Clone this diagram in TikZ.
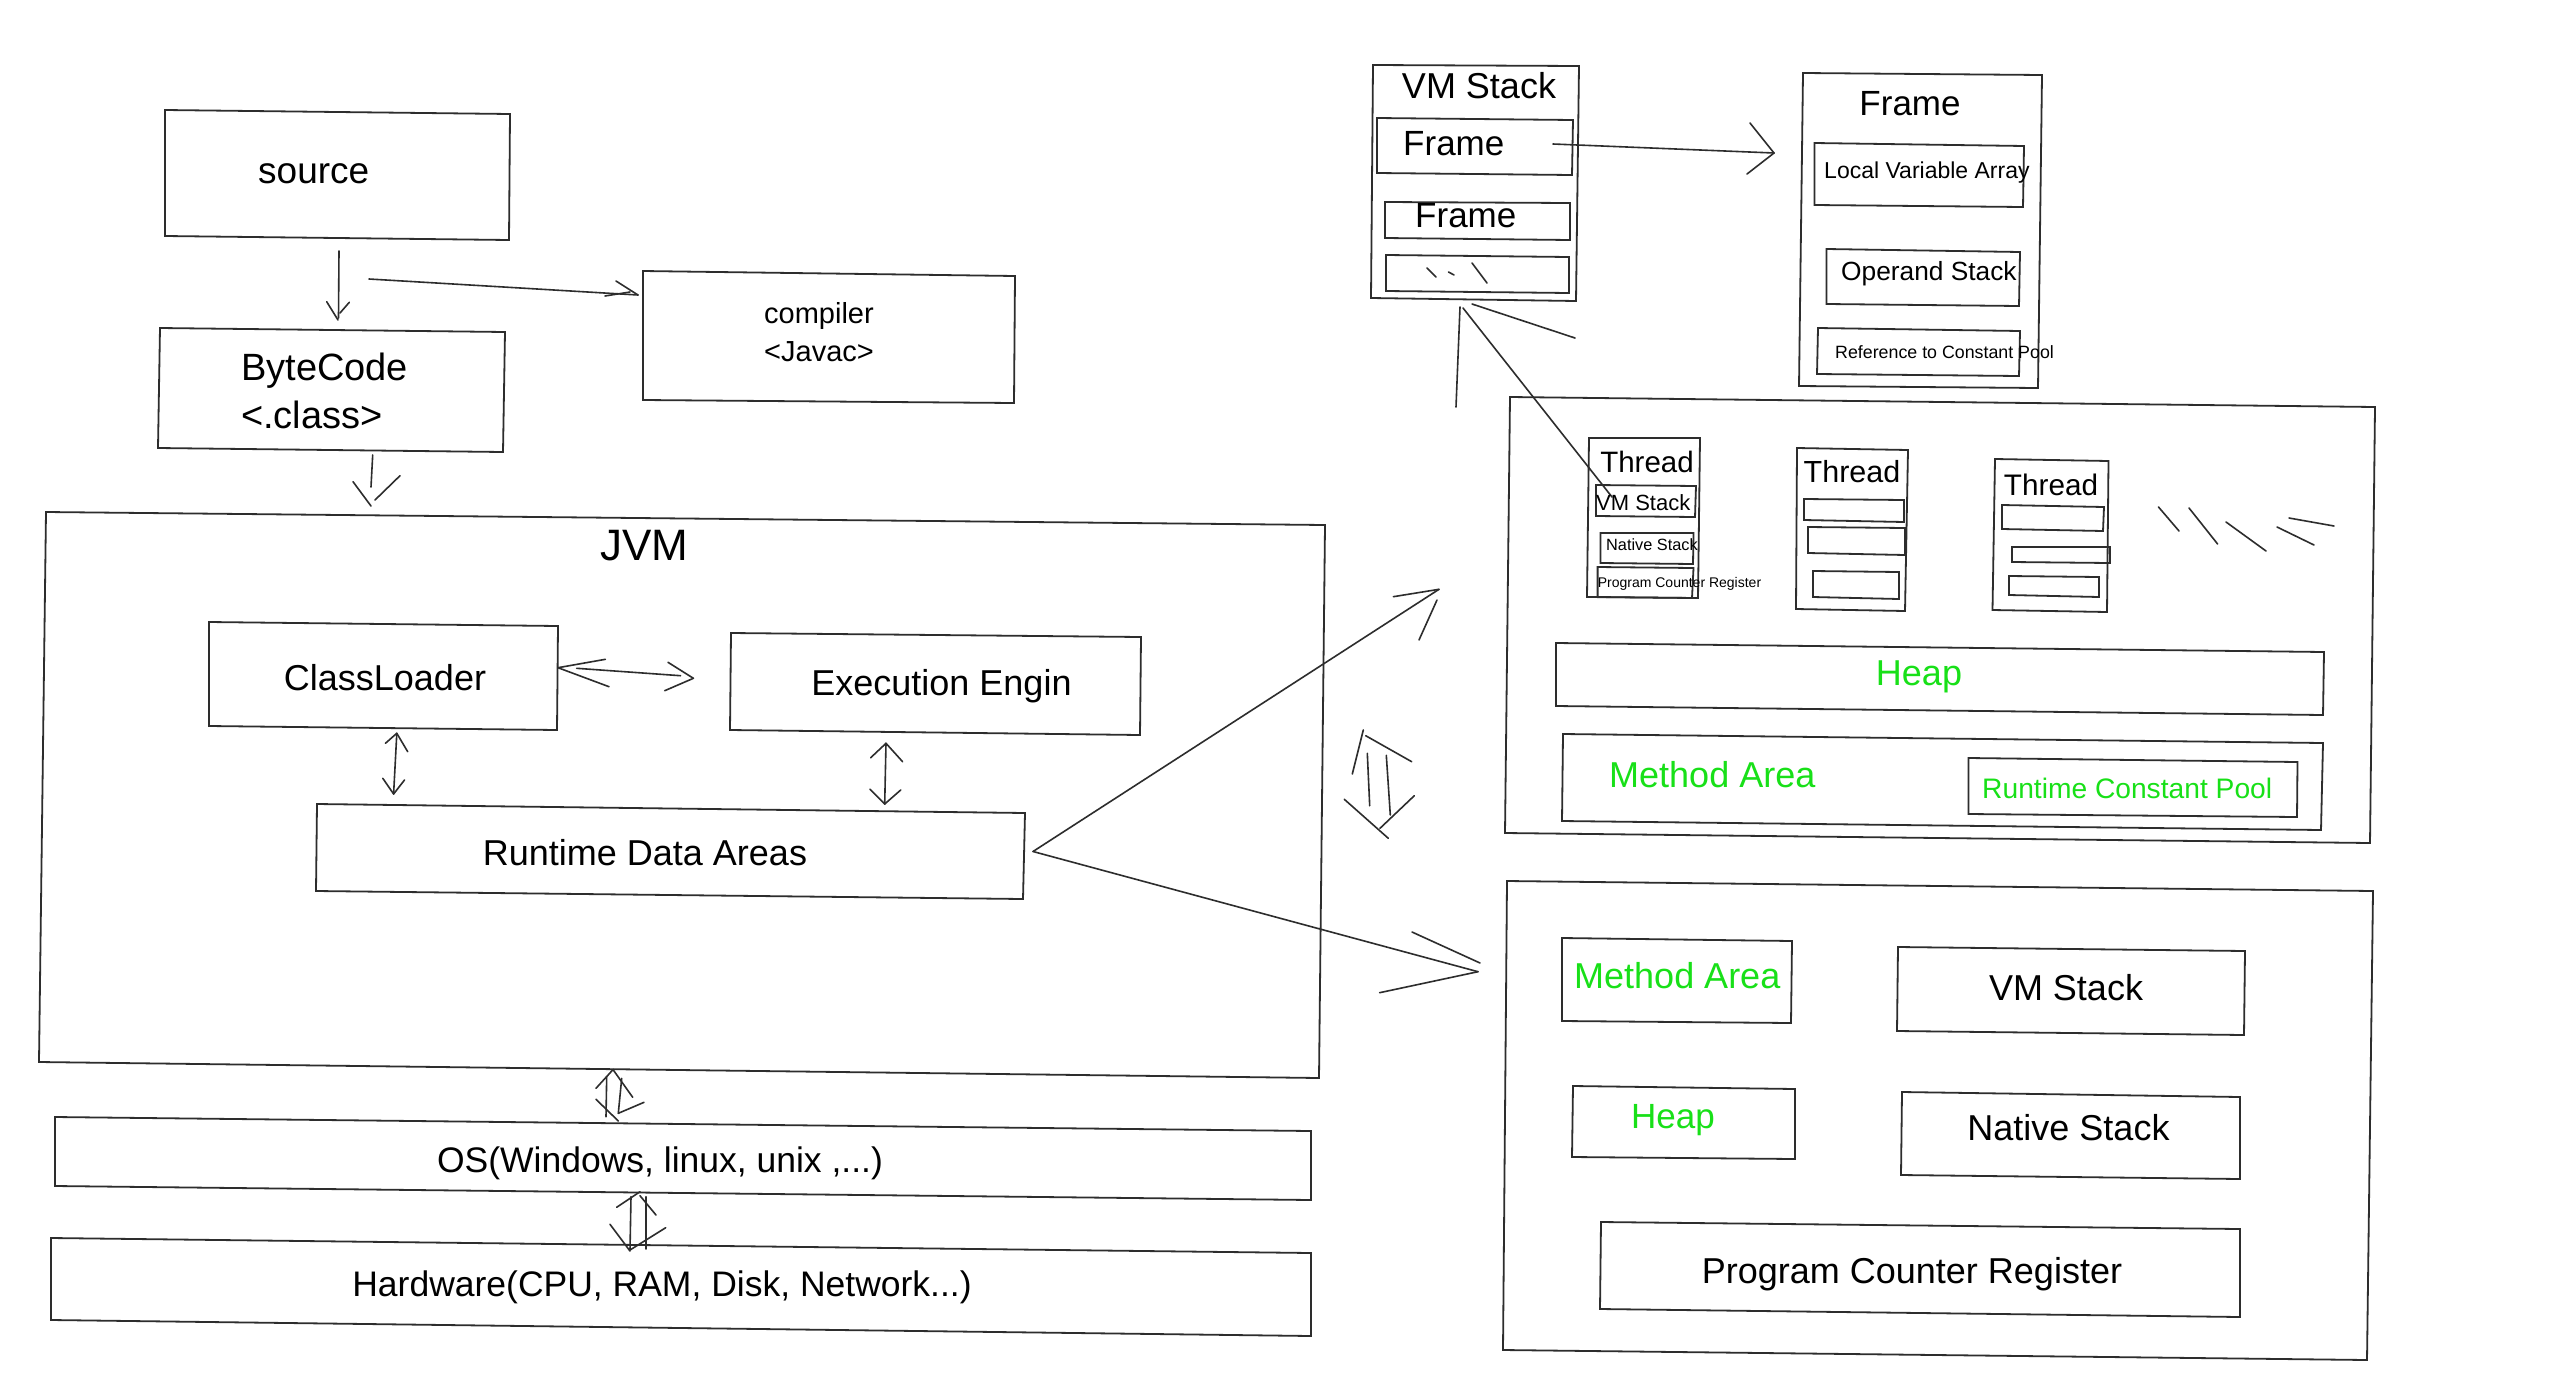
\documentclass[tikz,border=0pt]{standalone}
\usepackage{fontspec}
\setmainfont{Liberation Sans}
\definecolor{ink}{RGB}{45,45,45}
\definecolor{grn}{RGB}{24,224,24}
\newcommand{\fs}[1]{\fontsize{#1pt}{#1pt}\selectfont}
\newcommand{\qbox}[5]{%
  \coordinate (#1-a) at (#2); \coordinate (#1-b) at (#3);
  \coordinate (#1-c) at (#4); \coordinate (#1-d) at (#5);
  \draw[boxline] (#1-a) -- (#1-b) -- (#1-c) -- (#1-d) -- cycle;}
\newcommand{\sk}[3]{%
  \coordinate (#1-s) at (#2); \coordinate (#1-e) at (#3);
  \draw[ln] (#1-s) -- (#1-e);}
\tikzset{
  boxline/.style={draw=ink, line width=1.8pt, line join=miter},
  ln/.style={draw=ink, line width=1.6pt, line cap=round},
  txt/.style={inner sep=0pt, text=black},
  gtxt/.style={inner sep=0pt, text=grn}
}
\begin{document}
\begin{tikzpicture}[x=1pt,y=-1pt]
\useasboundingbox (0,0) rectangle (2560,1395);
\fill[white] (0,0) rectangle (2560,1395);

% ---------------- left column ----------------
\qbox{src}{165,110}{510,114}{509,240}{165,236}
\node[txt, font=\fs{37}, anchor=base west] (t-src) at (258,183) {source};

\qbox{bc}{160,328}{505,332}{503,452}{158,448}
\node[txt, font=\fs{38}, anchor=base west] (t-bc1) at (241,380) {ByteCode};
\node[txt, font=\fs{38}, anchor=base west] (t-bc2) at (241,428) {<.class>};

\qbox{cmp}{643,271}{1015,276}{1014,403}{643,400}
\node[txt, font=\fs{29}, anchor=base west] (t-cmp1) at (764,323) {compiler};
\node[txt, font=\fs{29}, anchor=base west] (t-cmp2) at (764,361) {<Javac>};

% source -> ByteCode
\sk{a1}{339,251}{338.5,318}
\sk{a1h1}{326.7,301.7}{338,320}
\sk{a1h2}{349.3,302.3}{340,313}
% -> compiler
\sk{a2}{369,279}{638,295}
\sk{a2h1}{616,281}{638,295}
\sk{a2h2}{605,296}{630,292}
% ByteCode -> JVM
\sk{a3}{372.7,455}{371,487}
\sk{a3h1}{353,481.7}{371,506}
\sk{a3h2}{400,475.7}{375,500}

% JVM
\qbox{jvm}{46,512}{1325,525}{1319,1078}{39,1062}
\node[txt, font=\fs{44}, anchor=base] (t-jvm) at (644,560) {JVM};

\qbox{cl}{209,622}{558,626}{557,730}{209,726}
\node[txt, font=\fs{36}, anchor=base] (t-cl) at (385,690) {ClassLoader};
\qbox{ee}{731,633}{1141,637}{1140,735}{730,730}
\node[txt, font=\fs{36}, anchor=base] (t-ee) at (941.5,695) {Execution Engin};
\qbox{rda}{317,804}{1025,813}{1023,899}{316,891}
\node[txt, font=\fs{36}, anchor=base] (t-rda) at (645,865) {Runtime Data Areas};

% ClassLoader <-> Execution
\sk{b1}{576.7,668.3}{680.6,675.7}
\sk{b1h1}{558,667.7}{605.4,659.3}
\sk{b1h2}{558,667.7}{609,686.7}
\sk{b1h3}{693.4,678.3}{668,662.3}
\sk{b1h4}{693.4,678.3}{664.7,690.7}
% ClassLoader <-> RDA
\sk{b2}{396.8,733.3}{393.6,794}
\sk{b2h1}{396.8,733.3}{385.4,743.3}
\sk{b2h2}{396.8,733.3}{407.7,751.7}
\sk{b2h3}{393.6,794}{382.8,778.3}
\sk{b2h4}{393.6,794}{404.5,780}
% Execution <-> RDA
\sk{b3}{886,743.3}{884.7,804}
\sk{b3h1}{886,743.3}{870.7,757.7}
\sk{b3h2}{886,743.3}{902.6,761.7}
\sk{b3h3}{884.7,804}{870,789.3}
\sk{b3h4}{884.7,804}{900.7,790}

% OS and Hardware
\qbox{os}{55,1117}{1311,1131}{1311,1200}{55,1186}
\node[txt, font=\fs{35.5}, anchor=base] (t-os) at (660,1172) {OS(Windows, linux, unix ,...)};
\qbox{hw}{51,1238}{1311,1253}{1311,1336}{51,1320}
\node[txt, font=\fs{35.5}, anchor=base] (t-hw) at (662,1296) {Hardware(CPU, RAM, Disk, Network...)};

% JVM <-> OS
\sk{c1}{606.7,1076.7}{606,1116.7}
\sk{c2}{621.7,1078.3}{618.3,1113.3}
\sk{c3}{596,1088.3}{613.3,1069.3}
\sk{c4}{613.3,1070}{632.7,1097.3}
\sk{c5}{596,1099.3}{618.3,1121}
\sk{c6}{618.3,1113.3}{644,1102.3}
% OS <-> Hardware
\sk{d1}{631,1196.7}{630,1250}
\sk{d2}{646,1196.7}{646,1249}
\sk{d3}{616.7,1207.3}{640,1191.7}
\sk{d4}{640,1195.7}{656,1215}
\sk{d5}{610,1224.3}{630,1251}
\sk{d6}{630,1250}{665.7,1227.7}

% RDA branches
\coordinate (br-s) at (1033,851.5);
\coordinate (br-u) at (1439,589.3);
\coordinate (br-d) at (1478,971.7);
\draw[ln] (br-s) -- (br-u);
\draw[ln] (br-s) -- (br-d);
\sk{e1}{1393.3,596.7}{1439,589.3}
\sk{e2}{1419,640}{1437,600}
\sk{e3}{1412,932}{1480,963}
\sk{e4}{1379.6,992.7}{1478,971.7}

% double arrow between right boxes
\sk{f1}{1363.3,730}{1352.3,774}
\sk{f2}{1365.7,735.7}{1411.7,761.7}
\sk{f3}{1367.3,753.3}{1369.7,805.7}
\sk{f4}{1386.3,755.3}{1390.3,815}
\sk{f5}{1344.3,799.3}{1388.3,838.3}
\sk{f6}{1414.3,795.7}{1380,828.3}

% ---------------- VM Stack detail ----------------
\qbox{vms}{1373,65}{1579,66}{1576,301}{1371,298}
\node[txt, font=\fs{36}, anchor=base] (t-vms) at (1479,98) {VM Stack};
\qbox{fr1}{1377,118}{1573,120}{1572,175}{1377,173}
\node[txt, font=\fs{35}, anchor=base west] (t-fr1) at (1403,155) {Frame};
\qbox{fr2}{1385,202}{1570,203}{1570,240}{1385,238}
\node[txt, font=\fs{35}, anchor=base west] (t-fr2) at (1415,227) {Frame};
\qbox{fr3}{1386,255}{1569,257}{1569,293}{1386,291}
\sk{g1}{1427,268}{1436,277}
\sk{g2}{1448.5,272}{1454,275}
\sk{g3}{1472,263}{1487,283}

% Frame -> Frame detail
\sk{h1}{1553,144}{1774,153}
\sk{h2}{1750,123}{1774,153}
\sk{h3}{1747,174}{1774,153}

\qbox{fd}{1803,73}{2042,75}{2038,388}{1799,386}
\node[txt, font=\fs{35}, anchor=base] (t-fd) at (1910,115) {Frame};
\qbox{lva}{1814.5,143}{2024,146}{2023,207}{1814.5,205}
\node[txt, font=\fs{23}, anchor=base west] (t-lva) at (1824,178) {Local Variable Array};
\qbox{ops}{1826.5,249}{2020,252}{2019,306}{1826.5,304}
\node[txt, font=\fs{26.3}, anchor=base west] (t-ops) at (1841,280) {Operand Stack};
\qbox{rcp}{1818,328}{2020,331}{2019,376}{1817,374}
\node[txt, font=\fs{17.8}, anchor=base west] (t-rcp) at (1835,358) {Reference to Constant Pool};

% thread VM Stack -> VM Stack
\coordinate (k-tip) at (1463,308);
\coordinate (k-end) at (1612,497);
\draw[ln] (k-end) -- (k-tip);
\sk{k1}{1460,307}{1456,407}
\sk{k2}{1472,304}{1575,338}

% ---------------- upper runtime box ----------------
\qbox{up}{1510,397}{2375,407}{2370,843}{1505,833}

\qbox{th1}{1589,438}{1700,438}{1698,598}{1587,597}
\node[txt, font=\fs{29.5}, anchor=base] (t-th1) at (1647,472) {Thread};
\qbox{th1a}{1596,485}{1696,486}{1695,517}{1596,516}
\node[txt, font=\fs{22}, anchor=base west] (t-th1a) at (1596,510) {VM Stack};
\qbox{th1b}{1600.5,533}{1693.5,533}{1693,564}{1600.5,563}
\node[txt, font=\fs{16.3}, anchor=base west] (t-th1b) at (1606,550) {Native Stack};
\qbox{th1c}{1597.6,567}{1693.5,568}{1692,598}{1597.6,597}
\node[txt, font=\fs{14}, anchor=base west] (t-th1c) at (1597.6,587) {Program Counter Register};

\qbox{th2}{1797,448}{1908,450}{1905,611}{1796,609}
\node[txt, font=\fs{30.5}, anchor=base] (t-th2) at (1852,482) {Thread};
\qbox{th2a}{1804,499}{1904,500}{1904,522}{1804,520}
\qbox{th2b}{1808,527}{1905,528}{1905,555}{1808,553}
\qbox{th2c}{1813,571}{1899,572}{1899,599}{1813,597}

\qbox{th3}{1995,459}{2108.5,461}{2107,612}{1992.5,610}
\node[txt, font=\fs{29.7}, anchor=base] (t-th3) at (2051,495) {Thread};
\qbox{th3a}{2002,505}{2104,507}{2103,531}{2002,529}
\qbox{th3b}{2012,547}{2110,547}{2110,563}{2012,562}
\qbox{th3c}{2009,576}{2099,577}{2099,597}{2009,595}

\sk{m1}{2158.5,507}{2179,531}
\sk{m2}{2189,508}{2217.6,544}
\sk{m3}{2226,522}{2266,551}
\sk{m4}{2277,527}{2314,545}
\sk{m5}{2289,518}{2334,526}

\qbox{hp}{1556,643}{2324,652}{2323,715}{1556,706}
\node[gtxt, font=\fs{36}, anchor=base] (t-hp) at (1919,685) {Heap};
\qbox{ma}{1563,734}{2323,743}{2321,830}{1562,821}
\node[gtxt, font=\fs{36}, anchor=base west] (t-ma) at (1609,787) {Method Area};
\qbox{rcpool}{1968.5,758}{2297.5,762}{2297,817}{1968.5,814}
\node[gtxt, font=\fs{28.2}, anchor=base west] (t-rcpool) at (1982,798) {Runtime Constant Pool};

% ---------------- lower runtime box ----------------
\qbox{lo}{1507,881}{2373,891}{2367,1360}{1503,1350}
\qbox{lma}{1562,938}{1792,941}{1791,1023}{1562,1021}
\node[gtxt, font=\fs{36}, anchor=base west] (t-lma) at (1574,988) {Method Area};
\qbox{lvm}{1898,947}{2245,951}{2244,1035}{1897,1031}
\node[txt, font=\fs{36}, anchor=base] (t-lvm) at (2066,1000) {VM Stack};
\qbox{lhp}{1573,1086}{1795,1089}{1795,1159}{1572,1157}
\node[gtxt, font=\fs{35}, anchor=base west] (t-lhp) at (1631,1128) {Heap};
\qbox{lns}{1902,1092}{2240,1097}{2240,1179}{1901,1175}
\node[txt, font=\fs{36}, anchor=base] (t-lns) at (2068.5,1140) {Native Stack};
\qbox{lpc}{1601,1222}{2240,1229}{2240,1317}{1600,1309}
\node[txt, font=\fs{36}, anchor=base] (t-lpc) at (1912,1283) {Program Counter Register};
\end{tikzpicture}
\end{document}
